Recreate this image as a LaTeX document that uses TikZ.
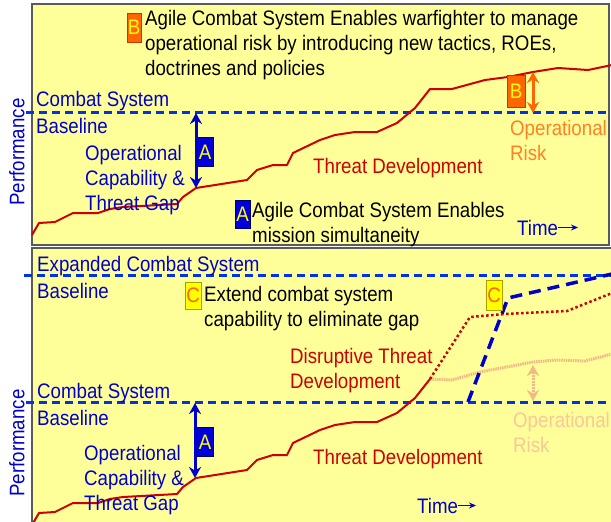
\documentclass[tikz,border=0pt]{standalone}
\usepackage{fontspec}
\setmainfont{Liberation Sans}[FakeStretch=0.89]
\usetikzlibrary{arrows.meta}
\definecolor{panelyellow}{RGB}{255,255,153}
\definecolor{panelframe}{RGB}{90,90,90}
\definecolor{baseblue}{RGB}{0,51,230}
\definecolor{textblue}{RGB}{0,0,204}
\definecolor{threatred}{RGB}{204,0,0}
\definecolor{riskorange}{RGB}{255,102,0}
\definecolor{risktext}{RGB}{255,128,40}
\definecolor{fadeorange}{RGB}{242,185,135}
\definecolor{fadetext}{RGB}{248,200,155}
\definecolor{boxblue}{RGB}{0,0,220}
\definecolor{boxyellow}{RGB}{255,255,0}
\tikzstyle{txt} = [inner sep=0pt, anchor=base west, align=left, font={\fontsize{21}{25}\selectfont}]
\tikzstyle{bluetxt} = [txt, text=textblue]
\tikzstyle{redtxt} = [txt, text=threatred]
\tikzstyle{panel} = [draw=panelframe, fill=panelyellow, line width=1.2pt]
\tikzstyle{basedash} = [draw=baseblue, line width=3pt, dash pattern=on 8pt off 5pt]
\tikzstyle{expanddash} = [draw=textblue, line width=3.5pt, dash pattern=on 12pt off 7pt, line join=round]
\tikzstyle{threat} = [draw=threatred, line width=2pt, line join=round]
\tikzstyle{disrupt} = [threat, line width=2.5pt, dash pattern=on 2.5pt off 2.5pt]
\tikzstyle{fadethreat} = [draw=fadeorange, line width=3pt, dash pattern=on 1.5pt off 0.8pt]
\tikzstyle{gaparrow} = [draw=textblue, line width=3pt, {Stealth[length=11pt,width=12pt]}-{Stealth[length=11pt,width=12pt]}]
\tikzstyle{riskarrow} = [gaparrow, draw=riskorange]
\tikzstyle{fadearrow} = [gaparrow, draw=fadeorange, dash pattern=on 2pt off 1pt]
\tikzstyle{timearrow} = [draw=textblue, line width=1pt, -{Stealth[length=7pt,width=6pt]}]
\tikzstyle{letter} = [minimum width=16pt, minimum height=29pt, inner sep=0pt, line width=0.8pt, font={\fontsize{21}{25}\selectfont}]
\tikzstyle{boxA} = [letter, draw=blue!40!black, fill=boxblue, text=boxyellow]
\tikzstyle{boxB} = [letter, draw={rgb,255:red,190;green,60;blue,0}, fill=riskorange, text=boxyellow]
\tikzstyle{boxC} = [letter, draw={rgb,255:red,170;green,160;blue,0}, fill=boxyellow, text=riskorange]

\begin{document}
\begin{tikzpicture}[x=1pt,y=-1pt]
        \useasboundingbox (0,0) rectangle (611,522);
        \clip (0,0) rectangle (611,522);
        % upper panel
        \draw[panel] (32,4) rectangle (609,245);
        \draw[basedash] (26,112.5) -- (611,112.5);
        \draw[threat] plot coordinates {(32,235) (39,223) (55,222) (73,213) (98,213) (110,209) (123,207) (177,204) (183,197) (196,188) (247,180) (257,170) (273,165) (287,165) (293,153) (320,140) (335,135) (355,132) (377,132) (397,123) (415,108) (430,89) (452,89) (485,80) (508,77) (533,72) (558,68) (588,70) (612,65)};
        \coordinate (a1top) at (196,113);
        \coordinate (a1bot) at (196,188);
        \draw[gaparrow] (a1top) -- (a1bot);
        \coordinate (b1top) at (533,72);
        \coordinate (b1bot) at (533,113);
        \draw[riskarrow] (b1top) -- (b1bot);
        \node[boxA] (A1) at (205,152) {A};
        \node[boxA, minimum width=15pt, minimum height=28pt] (A2) at (242.5,214) {A};
        \node[boxB, minimum width=14pt] (B1) at (134,27.5) {B};
        \node[boxB, minimum width=18pt, minimum height=32pt] (B2) at (516,91.5) {B};
        \node[txt] (n1) at (145,75) {Agile Combat System Enables warfighter to manage\\operational risk by introducing new tactics, ROEs,\\doctrines and policies};
        \node[bluetxt] (cs1) at (36,106) {Combat System};
        \node[bluetxt] (bl1) at (36,133) {Baseline};
        \node[bluetxt] (gap1) at (85,210) {Operational\\Capability \&\\Threat Gap};
        \node[redtxt] (td1) at (313,173) {Threat Development};
        \node[txt, text=risktext] (risk1) at (510,160) {Operational\\Risk};
        \node[txt] (n2) at (252,242) {Agile Combat System Enables\\mission simultaneity};
        \node[bluetxt, rotate=90, anchor=center] (perf1) at (17,152) {Performance};
        \node[bluetxt] (t1) at (517,235) {Time};
        \coordinate (t1end) at (578,227);
        \draw[timearrow] (t1.east) -- (t1.east -| t1end);
        % lower panel
        \draw[panel] (32,248) rectangle (620,530);
        \draw[basedash] (24,275) -- (611,275);
        \draw[basedash] (26,402) -- (611,402);
        \draw[fadethreat] plot coordinates {(430,379) (452,380) (480,372) (533,362) (557,360) (585,361) (612,354)};
        \draw[threat] plot coordinates {(32,525) (39,513) (55,512) (73,503) (98,503) (110,499) (123,497) (177,494) (183,487) (196,478) (247,470) (257,460) (273,455) (287,455) (293,443) (320,430) (335,425) (355,422) (377,422) (397,413) (415,398) (430,379)};
        \draw[disrupt] plot coordinates {(430,379) (470,317) (505,314) (567,311) (612,293)};
        \draw[expanddash] plot coordinates {(468,402) (508,298) (612,274)};
        \coordinate (a3top) at (195,403);
        \coordinate (a3bot) at (195,478);
        \draw[gaparrow] (a3top) -- (a3bot);
        \coordinate (b3top) at (533,365);
        \coordinate (b3bot) at (533,401);
        \draw[fadearrow] (b3top) -- (b3bot);
        \node[boxA] (A3) at (205,442) {A};
        \node[boxC, minimum height=27pt] (C1) at (193,295.5) {C};
        \node[boxC, minimum height=30pt] (C2) at (494,295) {C};
        \node[bluetxt] (ecs) at (37,271) {Expanded Combat System};
        \node[bluetxt] (bl2) at (37,298) {Baseline};
        \node[txt] (n3) at (204,326) {Extend combat system\\capability to eliminate gap};
        \node[redtxt] (dtd) at (290,388) {Disruptive Threat\\Development};
        \node[bluetxt] (cs2) at (37,398) {Combat System};
        \node[bluetxt] (bl3) at (37,425) {Baseline};
        \node[bluetxt] (gap2) at (84,510) {Operational\\Capability \&\\Threat Gap};
        \node[redtxt] (td2) at (313,464) {Threat Development};
        \node[txt, text=fadetext] (risk2) at (513,452) {Operational\\Risk};
        \node[bluetxt, rotate=90, anchor=center] (perf2) at (17,443) {Performance};
        \node[bluetxt] (t2) at (417,513) {Time};
        \coordinate (t2end) at (476,505);
        \draw[timearrow] (t2.east) -- (t2.east -| t2end);
      \end{tikzpicture}
\end{document}
